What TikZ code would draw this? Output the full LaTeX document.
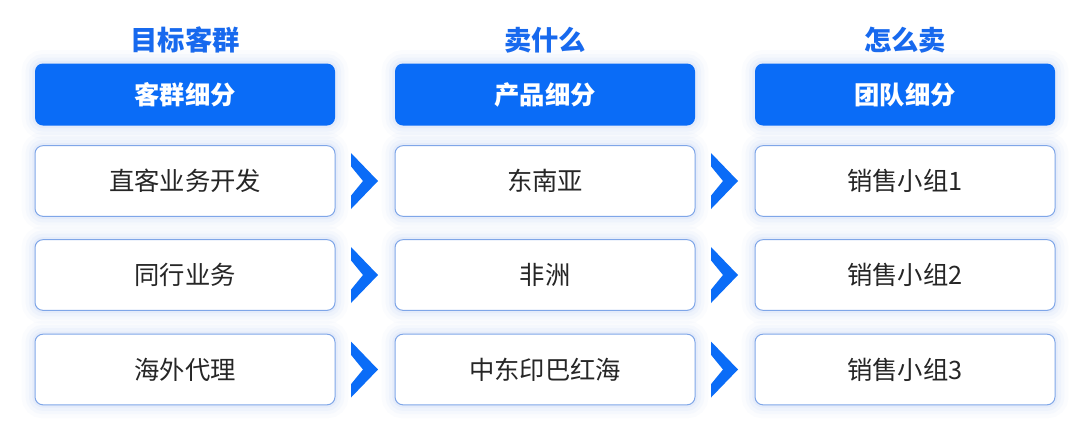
\documentclass[tikz,border=0pt]{standalone}
\usepackage{fontspec}
\setmainfont{Noto Sans CJK SC}
\definecolor{hdblue}{HTML}{0A6CF7}
\definecolor{ttblue}{HTML}{1769EE}
\definecolor{bord}{HTML}{7FA6E8}
\definecolor{txt}{HTML}{262626}
\definecolor{glow}{HTML}{8FAEEE}
\tikzset{
  glowy/.style={
    preaction={draw=glow, line width=20pt, draw opacity=0.035},
    preaction={draw=glow, line width=14pt, draw opacity=0.05},
    preaction={draw=glow, line width=9pt, draw opacity=0.065},
    preaction={draw=glow, line width=4pt, draw opacity=0.09}},
  hdbox/.style={glowy, rounded corners=6pt, fill=hdblue, text=white, minimum width=225pt, minimum height=46.5pt,
    font=\fontsize{19pt}{22pt}\selectfont\bfseries, inner sep=0pt},
  itbox/.style={glowy, rounded corners=6pt, fill=white, draw=bord, line width=0.75pt, text=txt, minimum width=225pt, minimum height=53pt,
    font=\fontsize{19pt}{22pt}\selectfont, inner sep=0pt},
  ttl/.style={text=ttblue, font=\fontsize{20.5pt}{24pt}\selectfont\bfseries, inner sep=0pt},
  chev/.style={fill=hdblue, draw=none}
}
\begin{document}
\begin{tikzpicture}[x=0.75pt, y=-0.75pt]
\useasboundingbox[fill=white] (0,0) rectangle (1080,440);
% titles
\node[ttl] (t1) at (185,40) {目标客群};
\node[ttl] (t2) at (545,40) {卖什么};
\node[ttl] (t3) at (905,40) {怎么卖};
% headers
\node[hdbox] (h1) at (185,94.5) {客群细分};
\node[hdbox] (h2) at (545,94.5) {产品细分};
\node[hdbox] (h3) at (905,94.5) {团队细分};
% items
\node[itbox] (a1) at (185,181) {直客业务开发};
\node[itbox] (a2) at (185,275) {同行业务};
\node[itbox] (a3) at (185,369.5) {海外代理};
\node[itbox] (b1) at (545,181) {东南亚};
\node[itbox] (b2) at (545,275) {非洲};
\node[itbox] (b3) at (545,369.5) {中东印巴红海};
\node[itbox] (c1) at (905,181) {销售小组1};
\node[itbox] (c2) at (905,275) {销售小组2};
\node[itbox] (c3) at (905,369.5) {销售小组3};
% chevrons
\foreach \l/\r in {a1/b1,a2/b2,a3/b3,b1/c1,b2/c2,b3/c3}{
  \path (\l.east) -- (\r.west) coordinate[pos=0.5] (m);
  \fill[chev] ([xshift=-10.5pt,yshift=21pt]m) -- ([xshift=9.75pt]m) -- ([xshift=-10.5pt,yshift=-21pt]m)
     -- ([xshift=-10.5pt,yshift=-11pt]m) -- ([xshift=-1.5pt]m) -- ([xshift=-10.5pt,yshift=11pt]m) -- cycle;
}
\end{tikzpicture}
\end{document}
